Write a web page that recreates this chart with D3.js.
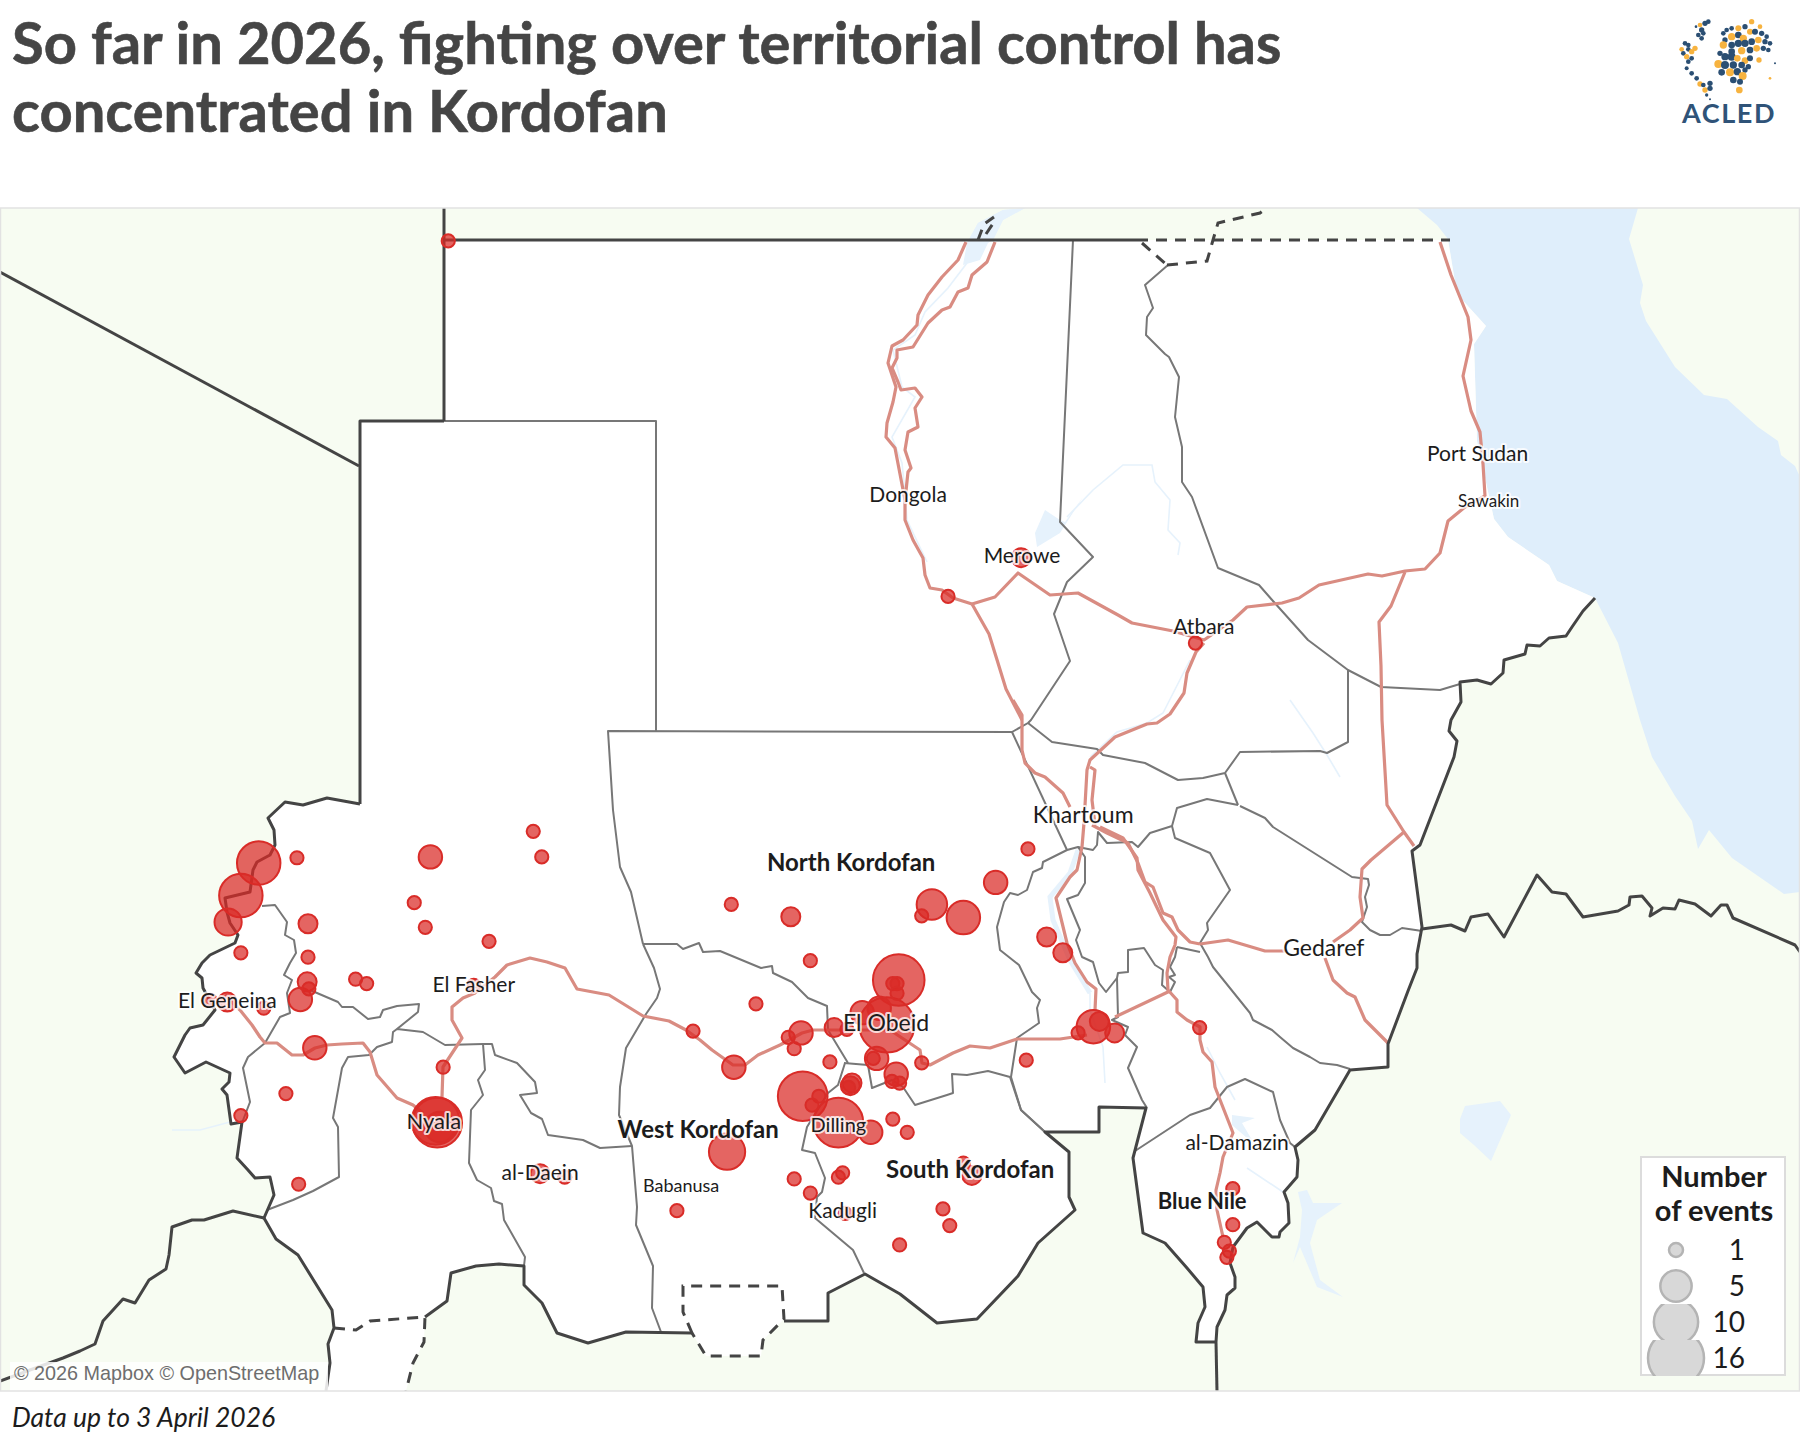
<!DOCTYPE html>
<html>
<head>
<meta charset="utf-8">
<script src="https://cdn.jsdelivr.net/npm/d3@7"></script>
<style>
  html, body { margin: 0; background: #fff; }
  text { font-family: Lato, "Noto Sans", sans-serif; }
</style>
</head>
<body>
<svg id="chart" width="1800" height="1440"></svg>
<script>
// events: lon, lat, number of events
const eventLon = [22.82,22.61,22.46,23.27,24.84,26.05,26.15,24.65,24.78,25.53,23.40,22.61,23.40,23.39,23.41,23.31,23.96,24.09,25.35,22.25,22.45,22.88,23.48,24.99,24.92,24.90,24.95,23.14,22.61,23.29,26.13,26.42,27.74,28.33,28.38,29.08,29.31,28.67,27.93,28.41,29.05,29.20,29.12,29.59,29.74,29.54,30.35,30.28,30.33,30.33,29.92,30.12,30.21,30.09,30.05,30.32,30.27,30.36,29.80,29.78,29.76,29.22,29.41,29.33,29.64,30.02,30.28,30.45,29.12,29.31,29.69,29.64,31.21,31.11,30.87,30.95,30.36,29.72,31.85,30.62,31.87,31.49,30.74,30.62,31.11,32.09,32.28,32.64,32.71,32.46,32.89,33.89,34.28,34.28,34.18,34.24,34.21,31.79,30.93,33.84,25.05];
const eventLat = [14.92,14.55,14.25,14.98,14.99,15.28,14.99,14.47,14.19,14.03,14.23,13.90,13.85,13.57,13.49,13.37,13.60,13.55,13.53,13.36,13.34,13.27,12.82,12.60,11.97,11.99,11.92,12.30,12.05,11.27,11.39,11.35,10.97,11.64,14.45,14.31,13.81,13.32,13.01,12.60,12.94,12.99,12.81,13.05,13.03,12.66,13.59,13.55,13.55,13.44,13.22,13.27,13.08,12.70,12.70,12.52,12.44,12.42,12.42,12.39,12.37,12.27,12.27,12.17,11.97,11.86,12.01,11.86,11.33,11.17,11.40,11.35,11.37,11.51,10.99,10.80,10.58,10.94,12.68,12.65,15.08,14.70,14.45,14.32,14.30,14.08,13.90,13.06,13.12,12.99,12.99,13.05,11.22,10.81,10.61,10.51,10.44,18.39,17.95,17.42,21.99];
const eventCount = [10,10,4,1,3,1,1,1,1,1,2,1,1,2,1,3,1,1,1,1,2,1,3,1,13,12,5,1,1,1,2,1,1,7,1,2,1,1,1,3,1,3,1,2,1,1,14,1,1,1,3,3,16,3,1,3,1,1,2,2,1,13,1,1,13,3,1,1,1,1,1,1,2,1,1,1,1,1,1,1,1,3,5,1,6,2,2,6,2,1,2,1,1,1,1,1,1,2,1,1,1];

const legendValues = [1, 5, 10, 16];

const placeNames = ['Dongola','Port Sudan','Sawakin','Merowe','Atbara','Khartoum','Gedaref','al-Damazin','El Obeid','Dilling','Kadugli','Babanusa','al-Daein','Nyala','El Fasher','El Geneina'];
const placeLon = [30.46,37.16,37.29,31.80,33.94,32.52,35.35,34.33,30.20,29.64,29.69,27.79,26.13,24.88,25.35,22.45];
const placeLat = [19.02,19.49,18.97,18.33,17.52,15.37,13.86,11.66,13.01,11.86,10.89,11.18,11.32,11.90,13.45,13.27];
const placeSize = [21,21,17,21,21,23,23,21,23,20,21,18,21,22,21,21];

const stateNames = ['North Kordofan','West Kordofan','South Kordofan','Blue Nile'];
const stateLon = [29.79,27.99,31.19,33.92];
const stateLat = [14.83,11.80,11.34,10.99];
const stateSize = [24,24,24,22];

// outlines, in map grid units
const redSea = [[2834,416],[2874,450],[2896,478],[2914,588],[2972,652],[2948,688],[2954,882],[2988,1038],[3016,1074],[3098,1130],[3114,1162],[3190,1196],[3236,1286],[3280,1440],[3304,1514],[3350,1592],[3384,1642],[3396,1698],[3418,1660],[3464,1716],[3568,1788],[3600,1784],[3600,954],[3590,932],[3562,910],[3556,882],[3516,854],[3454,798],[3408,790],[3350,734],[3292,642],[3280,606],[3286,570],[3258,478],[3276,416]];
const lakeTana = [[2920,2238],[2930,2212],[3000,2202],[3022,2230],[2982,2322],[2948,2290],[2920,2266]];
const lakeGerd = [[2596,2384],[2614,2380],[2626,2406],[2684,2406],[2634,2440],[2620,2486],[2640,2560],[2686,2594],[2634,2574],[2600,2494],[2586,2526],[2600,2474],[2604,2420]];
const lakeNasser = [[1956,446],[2006,420],[2050,416],[2006,440],[1986,480],[1976,486],[1960,520],[1926,530],[1934,486]];
const lakeMerowe = [[2070,1066],[2090,1020],[2120,1040],[2130,1044],[2166,994],[2120,1066],[2074,1094]];
const lakeRoseires = [[2464,2230],[2510,2236],[2484,2246],[2510,2290],[2464,2250]];
const rivers = [
  [[1934,526],[1896,576],[1850,624],[1830,670],[1786,700],[1804,774],[1830,794],[1784,874],[1804,926],[1810,986],[1814,1040],[1854,1124]],
  [[2134,1034],[2186,980],[2246,930],[2304,930],[2310,964],[2340,1000],[2336,1060],[2360,1086],[2356,1110]],
  [[2180,1514],[2234,1464],[2294,1446],[2326,1426],[2380,1320]],
  [[2580,1400],[2626,1466],[2654,1510],[2680,1554]],
  [[2414,2094],[2440,2146],[2470,2200]],
  [[2494,2336],[2566,2384]],
  [[344,2260],[400,2260],[460,2244]],
  [[2180,1986],[2180,2020],[2206,2094],[2210,2166]]
];
const whiteNile = [[2156,1700],[2140,1746],[2100,1794],[2106,1840],[2140,1920],[2180,1986]];

const stateLines = [
  [[2146,480],[2120,1044],[2186,1114],[2134,1164],[2108,1228],[2140,1322],[2062,1440],[2056,1446],[2024,1464],[1216,1462],[1226,1620],[1240,1734],[1262,1784],[1286,1888]],
  [[720,842],[1312,842],[1312,1464]],
  [[1286,1888],[1354,1888],[1366,1898],[1398,1886],[1406,1904],[1440,1902],[1522,1936],[1544,1932],[1546,1946],[1584,1964],[1616,1996],[1654,2012],[1656,2060],[1696,2126]],
  [[1688,2126],[1736,2130],[1744,2176],[1784,2160],[1806,2174],[1830,2210],[1894,2190],[1906,2186],[1904,2148],[1934,2150],[1976,2142],[2020,2154],[2042,2220],[2090,2264]],
  [[1690,2126],[1676,2170],[1656,2186],[1614,2254],[1604,2300],[1630,2306],[1650,2356],[1644,2384],[1634,2394],[1630,2436],[1706,2500],[1728,2546]],
  [[1286,1888],[1308,1936],[1320,1978],[1314,1996],[1292,2028],[1252,2096],[1240,2174],[1238,2230],[1264,2292],[1274,2414],[1272,2450],[1306,2532],[1304,2616],[1322,2664]],
  [[1264,2292],[1200,2296],[1166,2280],[1096,2270],[1084,2238],[1062,2226],[1040,2190],[1074,2186],[1070,2164],[1034,2126],[990,2110],[984,2088],[966,2088],[890,2090],[846,2064],[794,2058],[786,2064],[784,2084],[754,2094],[738,2110],[696,2114],[684,2136],[666,2236],[676,2254],[678,2354],[626,2382],[586,2400],[534,2420]],
  [[966,2088],[970,2140],[956,2160],[966,2190],[942,2220],[938,2326],[954,2360],[982,2376],[988,2402],[1004,2408],[1008,2440],[1050,2514],[1048,2532]],
  [[524,1812],[550,1810],[574,1844],[570,1870],[588,1880],[592,1906],[580,1926],[568,1950],[584,1960],[574,1986],[580,2026],[560,2034],[530,2086],[496,2114],[486,2136],[500,2204],[484,2246]],
  [[620,1980],[676,2004],[684,2014],[706,2014],[736,2038],[760,2034],[766,2020],[794,2012],[838,2008],[836,2024],[794,2058]],
  [[2024,1464],[2134,1700]],
  [[2056,1446],[2104,1484],[2194,1498],[2206,1510],[2290,1526],[2356,1560],[2406,1556],[2450,1546],[2480,1504],[2640,1502],[2654,1506],[2696,1484],[2696,1340]],
  [[2336,530],[2290,570],[2306,616],[2294,634],[2292,670],[2330,708],[2338,714],[2358,754],[2350,834],[2364,894],[2364,964],[2384,994],[2436,1136],[2518,1170],[2546,1202],[2616,1280],[2696,1340],[2762,1374],[2880,1380],[2920,1368]],
  [[2450,1546],[2476,1610]],
  [[2476,1610],[2414,1598],[2354,1616],[2344,1652],[2300,1666],[2276,1694],[2264,1684],[2214,1686],[2196,1664],[2194,1690],[2186,1700],[2156,1694],[2134,1700],[2086,1724],[2084,1736],[2066,1744],[2054,1780],[2036,1790],[2020,1786],[2008,1804],[1994,1854],[2000,1900],[2038,1930],[2064,1984],[2080,2000],[2074,2016],[2078,2046],[2034,2076],[2022,2154],[2042,2220],[2090,2264]],
  [[2156,1694],[2170,1714],[2170,1766],[2156,1790],[2134,1798],[2160,1860],[2152,1880],[2164,1914],[2186,1924],[2198,1966],[2212,1984],[2234,1956],[2236,1946],[2256,1944],[2256,1900],[2288,1896],[2310,1930],[2326,1940],[2324,1970],[2340,1984]],
  [[2234,1956],[2236,2034],[2224,2040],[2256,2054],[2250,2070],[2274,2094],[2256,2136],[2284,2200],[2294,2216]],
  [[2270,2302],[2380,2230],[2420,2216],[2454,2174],[2490,2158],[2546,2184],[2560,2240],[2580,2286],[2590,2294]],
  [[2344,1652],[2350,1676],[2420,1706],[2460,1780],[2414,1846],[2416,1860],[2400,1886],[2416,1914],[2426,1934],[2500,2026],[2506,2040],[2544,2060],[2560,2074],[2586,2096],[2620,2114],[2640,2126],[2674,2130],[2700,2138]],
  [[2354,1894],[2400,1904]],
  [[2354,1894],[2350,1914],[2340,1934],[2350,1950],[2338,1954],[2350,1964],[2340,1984]],
  [[2480,1612],[2530,1636],[2546,1654],[2704,1754],[2736,1758],[2738,1770],[2730,1794],[2734,1814],[2724,1844],[2740,1860],[2760,1870],[2780,1870],[2804,1856],[2844,1862]]
];

const roads = [
  [[450,1990],[480,2020],[504,2050],[520,2074],[530,2086],[554,2086],[584,2110],[606,2110],[630,2096],[654,2090],[684,2088],[726,2086],[740,2104],[754,2150],[794,2196],[826,2210],[846,2226]],
  [[884,2194],[886,2134],[924,2076],[904,2040],[904,2014],[926,1996],[950,1986],[990,1954],[1014,1930],[1060,1916],[1094,1924],[1130,1936],[1154,1978],[1218,1990],[1286,2032],[1338,2042],[1372,2060],[1400,2080],[1424,2100],[1466,2130],[1490,2130],[1516,2110],[1560,2090],[1604,2066],[1626,2060],[1666,2060],[1780,2060],[1840,2100],[1844,2126],[1860,2130],[1906,2106],[1940,2092],[1980,2096],[2034,2078],[2120,2078],[2174,2070]],
  [[2230,2034],[2340,1982]],
  [[2190,2020],[2192,1978],[2174,1964],[2150,1926],[2134,1886],[2112,1796],[2140,1754],[2154,1740],[2164,1694],[2168,1646],[2174,1540],[2180,1520],[2230,1474],[2294,1448],[2314,1446],[2340,1428],[2368,1386],[2374,1346],[2392,1304],[2408,1286]],
  [[2190,1650],[2184,1600],[2190,1540],[2180,1534]],
  [[1944,1208],[1990,1194],[2036,1146],[2100,1190],[2156,1186],[2236,1230],[2264,1246],[2346,1262],[2408,1280],[2466,1240],[2494,1214],[2564,1206],[2598,1196],[2638,1170],[2736,1148],[2764,1152],[2810,1142],[2850,1138],[2880,1106],[2896,1042],[2930,1014],[2970,992],[2966,928],[2960,864],[2942,822],[2926,752],[2942,680],[2936,634],[2902,550],[2880,484]],
  [[2810,1144],[2782,1212],[2758,1244],[2762,1332],[2764,1440],[2774,1610],[2808,1664],[2828,1692]],
  [[2808,1664],[2742,1720],[2724,1738],[2720,1794],[2726,1836],[2700,1860],[2666,1884]],
  [[2400,1888],[2456,1880],[2530,1902],[2574,1902]],
  [[2650,1916],[2666,1960],[2694,1986],[2710,1994],[2730,2040],[2776,2086]],
  [[2184,1650],[2214,1666],[2256,1686],[2276,1726],[2290,1764],[2306,1774],[2326,1826],[2344,1834],[2356,1860],[2380,1884],[2400,1888]],
  [[2200,1654],[2246,1676],[2274,1716],[2276,1740],[2300,1786],[2326,1840],[2352,1874],[2350,1890],[2340,1914],[2334,1946],[2336,1980],[2354,2000],[2354,2024],[2374,2040],[2400,2054],[2400,2080],[2406,2104],[2424,2124],[2430,2174],[2466,2266],[2446,2314],[2440,2346],[2432,2380],[2434,2420],[2446,2474]],
  [[2026,1400],[2044,1430],[2044,1500],[2050,1526],[2070,1546],[2090,1554],[2126,1586],[2140,1614]],
  [[1944,1208],[1978,1268],[1996,1326],[2012,1378],[2044,1440]],
  [[1932,484],[1916,520],[1884,554],[1856,590],[1836,630],[1834,650],[1806,680],[1784,692],[1776,726],[1792,774],[1786,804],[1774,846],[1772,874],[1790,896],[1810,1000],[1810,1040],[1826,1080],[1846,1116],[1850,1150],[1860,1176],[1884,1180],[1906,1196],[1944,1208]],
  [[1990,484],[1974,524],[1944,550],[1936,576],[1916,584],[1900,614],[1884,620],[1856,646],[1826,694],[1794,700],[1794,716],[1784,736],[1796,764],[1802,780],[1830,776],[1844,794],[1830,816],[1836,854],[1816,864],[1810,900],[1822,936],[1816,944],[1810,1000]]
];

const chadSudan = [[720,1608],[654,1596],[606,1610],[570,1604],[536,1636],[548,1660],[550,1690],[540,1710],[514,1724],[506,1740],[500,1784],[450,1796],[454,1824],[460,1846],[476,1870],[470,1886],[420,1910],[404,1926],[392,1946],[404,1956],[406,1976],[430,2020],[406,2050],[380,2056],[370,2070],[348,2114],[370,2146],[412,2124],[460,2146],[458,2164],[444,2178],[454,2190],[462,2248],[484,2244],[474,2316],[496,2340],[510,2356],[540,2354],[548,2390],[528,2436]];
const carBorder = [[528,2436],[466,2422],[408,2440],[384,2440],[344,2454],[338,2510],[332,2538],[298,2560],[270,2606],[246,2598],[206,2642],[190,2688],[160,2702],[126,2716],[60,2740],[0,2762]];
const southA = [[528,2436],[552,2478],[596,2510],[664,2620],[668,2656],[656,2688],[660,2726],[652,2782]];
const southB = [[850,2634],[894,2602],[902,2546],[952,2532],[998,2528],[1048,2532],[1048,2570],[1084,2606],[1114,2666],[1176,2686],[1252,2664],[1384,2666]];
const southC = [[1568,2642],[1656,2642],[1656,2586],[1730,2548],[1800,2588],[1874,2646],[1954,2638],[2036,2552],[2076,2486],[2150,2420],[2138,2394],[2138,2304],[2090,2264],[2198,2264],[2198,2214],[2292,2216],[2266,2316],[2286,2466],[2330,2486],[2374,2536],[2406,2574],[2410,2614],[2396,2646],[2392,2684],[2432,2684]];
const southEnd = [[2432,2684],[2434,2782]];
const eastBorder = [[2432,2684],[2434,2654],[2450,2620],[2454,2590],[2470,2576],[2470,2554],[2460,2526],[2466,2494],[2494,2456],[2514,2444],[2544,2474],[2558,2474],[2560,2464],[2578,2446],[2576,2406],[2568,2384],[2594,2354],[2596,2320],[2590,2294],[2630,2260],[2700,2140],[2776,2134],[2776,2088],[2816,1982],[2834,1936],[2834,1908],[2844,1854],[2824,1702],[2840,1690],[2908,1514],[2914,1482],[2898,1462],[2902,1440],[2922,1404],[2920,1364],[2954,1360],[2982,1368],[3006,1346],[3008,1320],[3050,1308],[3054,1290],[3080,1292],[3098,1276],[3132,1272],[3144,1254],[3166,1222],[3190,1196]];
const ethiopiaEritrea = [[2844,1858],[2902,1850],[2930,1862],[2942,1834],[2976,1828],[3008,1874],[3074,1750],[3104,1784],[3132,1788],[3166,1834],[3236,1822],[3258,1810],[3260,1794],[3284,1792],[3304,1816],[3300,1832],[3326,1816],[3350,1818],[3358,1800],[3390,1808],[3422,1832],[3442,1810],[3454,1810],[3466,1836],[3590,1890],[3600,1904]];
const northBorders = [
  [[888,416],[888,842]],
  [[888,480],[2274,480]],
  [[0,544],[718,932]],
  [[888,842],[720,842],[720,1608]]
];
const coastLine = [[888,480],[2896,480],[2914,588],[2972,652],[2948,688],[2954,882],[2988,1038],[3016,1074],[3098,1130],[3114,1162],[3190,1196]];
const dashedBorders = [
  [[2274,480],[2900,480]],
  [[2284,486],[2334,530]],
  [[2334,530],[2414,522],[2426,480],[2436,446],[2520,426],[2534,416]],
  [[1956,480],[1968,448],[1988,434]],
  [[1972,468],[1988,444]],
  [[668,2656],[712,2660],[740,2642],[850,2634],[848,2684],[826,2726],[812,2782]]
];
const abyei = [[1384,2666],[1366,2624],[1366,2572],[1564,2572],[1568,2638],[1526,2680],[1522,2712],[1412,2712],[1384,2666]];

// logo dots: x, y, size, amber or navy
const logoX = [135,120,145,108,125,115,130,125,75,65,85,70,85,95,105,80,95,85,80,95,110,120,130,150,135,150,140,150,190,200,215,235,255,275,300,195,215,235,250,270,285,305,320,215,235,255,275,295,315,330,190,215,245,270,290,310,325,180,195,215,232,255,270,297,175,195,220,245,265,185,210,232,255,220,248,240,238,330,345];
const logoY = [40,45,35,50,60,75,70,85,100,118,105,130,118,125,115,140,145,155,175,190,205,222,225,220,240,235,255,268,70,60,55,55,50,35,50,90,80,75,85,65,65,70,80,105,100,100,95,90,95,100,105,125,122,120,115,115,120,130,140,140,145,152,145,150,162,165,165,165,170,187,187,185,180,210,198,215,240,205,160];
const logoR = [8,7,7,4,8,7,7,7,7,7,7,7,7,8,8,8,7,7,6,7,7,8,7,8,8,8,5,3,7,7,7,9,8,8,7,8,11,10,11,9,9,8,7,10,11,11,10,10,8,7,11,10,11,10,10,8,7,8,11,12,10,10,9,8,12,12,11,10,8,10,12,11,8,10,12,9,10,4,3];
const logoAmber = [0,1,0,0,0,0,0,0,0,1,0,0,0,1,1,1,0,0,0,0,0,1,0,0,1,0,0,0,0,0,0,1,0,1,1,0,1,0,1,1,0,0,0,0,0,0,0,1,0,0,1,0,1,0,1,0,0,0,0,0,1,1,0,1,1,0,0,0,0,0,1,0,0,0,1,0,1,1,0];

const titleLines = ['So far in 2026, fighting over territorial control has', 'concentrated in Kordofan'];

const svg = d3.select('#chart');

const mapLeft = 0, mapRight = 1800, mapTop = 208, mapBottom = 1391;
const water = '#dfeefb', faintWater = '#e6f2fc';

// one scale for the traced outlines, one pair for the geographic data
const gridX = d3.scaleLinear().domain([0, 3600]).range([0, 1800]);
const gridY = d3.scaleLinear().domain([0, 2880]).range([0, 1440]);
const lonScale = d3.scaleLinear().domain([25, 37]).range([444, 1464]);
const latScale = d3.scaleLinear().domain([22, 10]).range([240, 1296]);
const radius = d3.scaleSqrt().domain([0, 16]).range([0, 28]);

const line = d3.line().x(d => gridX(d[0])).y(d => gridY(d[1]));

// title
svg.append('g').selectAll('text').data(titleLines).join('text')
  .attr('x', 12)
  .attr('y', (d, i) => 64 + i * 68)
  .attr('font-size', 57.9)
  .attr('font-weight', 700)
  .attr('fill', '#454545')
  .attr('stroke', '#454545')
  .attr('stroke-width', 0.6)
  .text(d => d);

// logo
const logo = svg.append('g').attr('transform', 'translate(1660,10) scale(0.3333)');
logo.selectAll('circle').data(logoX).join('circle')
  .attr('cx', d => d)
  .attr('cy', (d, i) => logoY[i])
  .attr('r', (d, i) => logoR[i])
  .attr('fill', (d, i) => logoAmber[i] ? '#f7b33f' : '#2b4f73');
svg.append('text')
  .attr('x', 1729).attr('y', 123)
  .attr('text-anchor', 'middle')
  .attr('font-size', 27)
  .attr('font-weight', 700)
  .attr('letter-spacing', 1.6)
  .attr('fill', '#2f5378')
  .text('ACLED');

// map frame
svg.append('clipPath').attr('id', 'map-clip').append('rect')
  .attr('x', mapLeft).attr('y', mapTop)
  .attr('width', mapRight - mapLeft).attr('height', mapBottom - mapTop);

const map = svg.append('g').attr('clip-path', 'url(#map-clip)');

map.append('rect')
  .attr('x', mapLeft).attr('y', mapTop)
  .attr('width', mapRight - mapLeft).attr('height', mapBottom - mapTop)
  .attr('fill', '#f7fcf2');

map.append('path').attr('d', line(redSea) + 'Z').attr('fill', water);

[lakeTana, lakeGerd, lakeNasser].forEach(l => {
  map.append('path').attr('d', line(l) + 'Z').attr('fill', faintWater);
});

// sudan land, stitched together from its borders
const landOutline = [].concat(
  coastLine,
  eastBorder.slice().reverse(),
  southC.slice().reverse(),
  abyei.slice(4, 8),
  southB.slice().reverse(),
  dashedBorders[5].slice(3),
  southA.slice().reverse(),
  chadSudan.slice().reverse(),
  [[720, 842], [888, 842]]
);
map.append('path').attr('d', line(landOutline) + 'Z').attr('fill', '#fff');

[lakeNasser, lakeMerowe, lakeRoseires].forEach(l => {
  map.append('path').attr('d', line(l) + 'Z').attr('fill', faintWater);
});
map.append('g').selectAll('path').data(rivers).join('path')
  .attr('d', line)
  .attr('fill', 'none')
  .attr('stroke', faintWater)
  .attr('stroke-width', 1.6);
map.append('path').attr('d', line(whiteNile))
  .attr('fill', 'none').attr('stroke', faintWater).attr('stroke-width', 5);

map.append('g').selectAll('path').data(stateLines).join('path')
  .attr('d', line)
  .attr('fill', 'none')
  .attr('stroke', '#777')
  .attr('stroke-width', 2)
  .attr('stroke-linejoin', 'round');

map.append('g').selectAll('path').data(roads).join('path')
  .attr('d', line)
  .attr('fill', 'none')
  .attr('stroke', '#d98c82')
  .attr('stroke-width', 3.2)
  .attr('stroke-linejoin', 'round');

const solidBorders = northBorders.concat([chadSudan, carBorder, southA, southB, southC, southEnd, eastBorder, ethiopiaEritrea]);
map.append('g').selectAll('path').data(solidBorders).join('path')
  .attr('d', line)
  .attr('fill', 'none')
  .attr('stroke', '#444')
  .attr('stroke-width', 3)
  .attr('stroke-linejoin', 'round');

map.append('g').selectAll('path').data(dashedBorders.concat([abyei])).join('path')
  .attr('d', line)
  .attr('fill', 'none')
  .attr('stroke', '#444')
  .attr('stroke-width', 3)
  .attr('stroke-dasharray', '11 8');

// events, biggest first
const events = eventCount.map((n, i) => ({ lon: eventLon[i], lat: eventLat[i], n: n }))
  .sort((a, b) => b.n - a.n);

map.append('g').selectAll('circle').data(events).join('circle')
  .attr('cx', d => lonScale(d.lon))
  .attr('cy', d => latScale(d.lat))
  .attr('r', d => radius(d.n) - 0.4)
  .attr('fill', 'rgba(218,42,38,0.72)')
  .attr('stroke', '#d92c28')
  .attr('stroke-width', 2);

// labels
function drawLabels(names, lons, lats, sizes, weight) {
  map.append('g').selectAll('text').data(names).join('text')
    .attr('x', (d, i) => lonScale(lons[i]))
    .attr('y', (d, i) => latScale(lats[i]))
    .attr('text-anchor', 'middle')
    .attr('font-size', (d, i) => sizes[i])
    .attr('font-weight', weight)
    .attr('fill', '#1c1c1c')
    .attr('stroke', 'rgba(255,255,255,0.8)')
    .attr('stroke-width', 4)
    .attr('stroke-linejoin', 'round')
    .attr('paint-order', 'stroke')
    .text(d => d);
}
drawLabels(placeNames, placeLon, placeLat, placeSize, 400);
drawLabels(stateNames, stateLon, stateLat, stateSize, 700);

// attribution
map.append('rect')
  .attr('x', 10).attr('y', 1362).attr('width', 318).attr('height', 30)
  .attr('fill', 'rgba(255,255,255,0.85)');
map.append('text')
  .attr('x', 14).attr('y', 1380)
  .attr('font-size', 19.8)
  .attr('fill', '#6e6e6e')
  .style('font-family', '"Liberation Sans", sans-serif')
  .text('© 2026 Mapbox © OpenStreetMap');

// frame border
svg.append('rect')
  .attr('x', mapLeft + 0.5).attr('y', mapTop)
  .attr('width', mapRight - mapLeft - 1).attr('height', mapBottom - mapTop)
  .attr('fill', 'none').attr('stroke', '#e2e2e2').attr('stroke-width', 1.5);

// legend
const legend = svg.append('g');
legend.append('rect')
  .attr('x', 1641).attr('y', 1157).attr('width', 144).attr('height', 218)
  .attr('fill', '#fff').attr('stroke', '#dcdcdc').attr('stroke-width', 2);
legend.selectAll('text.head').data(['Number', 'of events']).join('text')
  .attr('class', 'head')
  .attr('x', 1714)
  .attr('y', (d, i) => 1187 + i * 34)
  .attr('text-anchor', 'middle')
  .attr('font-size', 29)
  .attr('font-weight', 700)
  .attr('fill', '#1c1c1c')
  .text(d => d);

const rowY = d3.scaleBand().domain(legendValues).range([1232, 1376]);
legendValues.forEach((v, i) => {
  legend.append('clipPath').attr('id', 'row-' + i).append('rect')
    .attr('x', 1641).attr('y', rowY(v))
    .attr('width', 144).attr('height', rowY.bandwidth());
  legend.append('circle')
    .attr('clip-path', 'url(#row-' + i + ')')
    .attr('cx', 1676)
    .attr('cy', rowY(v) + rowY.bandwidth() / 2)
    .attr('r', radius(v))
    .attr('fill', '#d8d8d8')
    .attr('stroke', '#b4b4b4')
    .attr('stroke-width', 2.5);
  legend.append('text')
    .attr('x', 1745)
    .attr('y', rowY(v) + rowY.bandwidth() / 2 + 10)
    .attr('text-anchor', 'end')
    .attr('font-size', 28)
    .attr('fill', '#1c1c1c')
    .text(v);
});

// footer
svg.append('text')
  .attr('x', 12).attr('y', 1427)
  .attr('font-size', 26.5)
  .attr('font-style', 'italic')
  .attr('fill', '#1c1c1c')
  .text('Data up to 3 April 2026');
</script>
</body>
</html>
